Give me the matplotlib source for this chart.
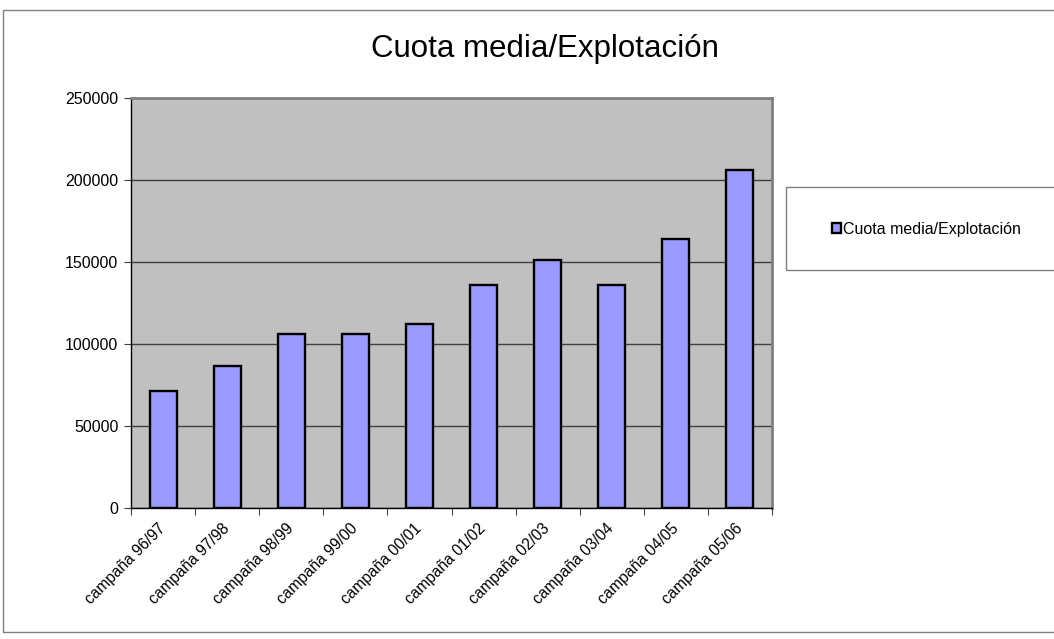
import matplotlib
matplotlib.use("Agg")
import matplotlib.pyplot as plt
from matplotlib.patches import Rectangle
import numpy as np

plt.rcParams['font.family'] = ['Liberation Sans', 'DejaVu Sans']

categories = ["campaña 96/97", "campaña 97/98", "campaña 98/99", "campaña 99/00",
              "campaña 00/01", "campaña 01/02", "campaña 02/03", "campaña 03/04",
              "campaña 04/05", "campaña 05/06"]
values = [71500, 86500, 105800, 105900, 112000, 136000, 151300, 135800, 164000, 205800]
yticks = [0, 50000, 100000, 150000, 200000, 250000]
series_name = "Cuota media/Explotación"
title = "Cuota media/Explotación"

W, H = 1054, 639
fig = plt.figure(figsize=(W / 100, H / 100), dpi=100)

# outer chart border
fig.patches.append(Rectangle((3 / W, 1 - 632 / H), (W + 10) / W, (632 - 10) / H,
                             transform=fig.transFigure, fill=False,
                             edgecolor='#808080', linewidth=1.0))

ax = fig.add_axes([131 / W, 1 - 508 / H, (772 - 131) / W, (508 - 98) / H])
ax.set_facecolor('#c0c0c0')
x = np.arange(len(categories))
ax.bar(x, values, width=0.42, color='#9999ff', edgecolor='black', linewidth=1.7,
       zorder=3, label=series_name)
ax.set_xlim(-0.5, len(categories) - 0.5)
ax.set_ylim(0, 250000)
ax.set_yticks(yticks)
ax.set_yticklabels([str(v) for v in yticks], fontsize=11.5)
ax.yaxis.grid(True, color='#404040', linewidth=1.0, zorder=1)
ax.set_axisbelow(True)

ax.set_xticks(np.arange(len(categories) + 1) - 0.5, minor=False)
ax.set_xticklabels([])
ax.set_xticks(x, minor=True)
ax.set_xticklabels(categories, minor=True, rotation=45, ha='right', va='center',
                   rotation_mode='anchor', fontsize=11.2)
ax.tick_params(axis='x', which='minor', length=0, pad=13)
ax.tick_params(axis='x', which='major', length=5, direction='out', color='#404040')
ax.tick_params(axis='y', length=5, direction='out', color='#404040', pad=4)

for s in ['left', 'bottom']:
    ax.spines[s].set_color('black')
    ax.spines[s].set_linewidth(1.0)
for s in ['top', 'right']:
    ax.spines[s].set_color('#808080')
    ax.spines[s].set_linewidth(2.0)

fig.text(545 / W, 1 - 49 / H, title, ha='center', va='center', fontsize=22.5)

# legend
handles, labels = ax.get_legend_handles_labels()
leg = fig.legend(handles, labels, loc='center left',
                 bbox_to_anchor=(826 / W, 1 - 229 / H), fontsize=11.5,
                 frameon=False, handlelength=0.55, handleheight=0.55,
                 handletextpad=0.1, borderaxespad=0)
fig.patches.append(Rectangle((786 / W, 1 - 270 / H), (W + 10 - 786) / W, (270 - 187) / H,
                             transform=fig.transFigure, fill=False,
                             edgecolor='#808080', linewidth=1.0))

fig.savefig("out.png", dpi=100)
